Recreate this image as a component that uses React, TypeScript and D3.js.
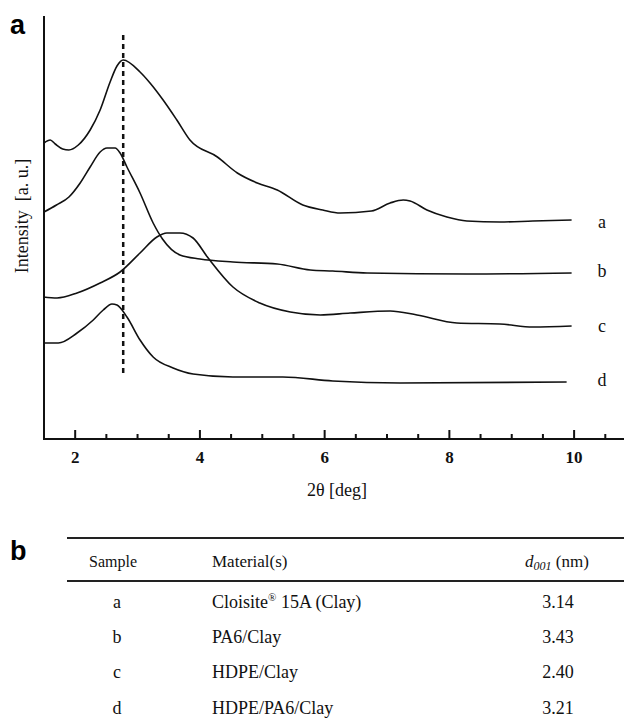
import React, { useEffect, useRef } from 'react';
import * as d3 from 'd3';

// XRD patterns: [2theta (deg), intensity (a.u.)]
const curveA: [number, number][] = [
  [1.50, 296], [1.60, 299], [1.68, 295], [1.80, 290], [1.90, 289], [2.05, 294],
  [2.24, 309], [2.40, 329], [2.56, 357], [2.67, 373], [2.77, 379], [3.04, 367],
  [3.20, 356], [3.41, 339], [3.63, 319], [3.84, 299], [4.28, 282], [4.60, 266],
  [4.92, 256], [5.24, 249], [5.65, 234], [5.97, 229], [6.25, 226], [6.75, 228],
  [7.05, 236], [7.26, 239], [7.37, 238], [7.64, 229], [7.96, 222], [8.28, 218],
  [8.81, 217], [9.34, 218], [9.96, 219],
];
const curveB: [number, number][] = [
  [1.50, 227], [1.70, 234], [1.90, 242], [2.08, 256], [2.24, 272],
  [2.40, 287], [2.51, 291], [2.64, 291], [2.72, 286], [2.83, 272], [3.04, 246],
  [3.25, 216], [3.40, 200], [3.68, 184], [4.00, 180], [4.53, 177], [5.24, 175],
  [5.77, 169], [6.13, 168], [6.68, 166], [8.28, 165], [9.96, 166],
];
const curveC: [number, number][] = [
  [1.49, 142], [1.71, 141], [2.03, 146], [2.40, 156], [2.72, 167], [3.04, 186],
  [3.31, 202], [3.47, 206], [3.68, 206], [3.89, 201], [4.12, 182], [4.53, 152],
  [4.96, 136], [5.45, 127], [5.93, 124], [6.41, 126], [7.05, 128], [7.48, 124],
  [8.12, 116], [8.81, 115], [9.34, 112], [9.96, 113],
];
const curveD: [number, number][] = [
  [1.49, 96], [1.73, 96], [2.03, 106], [2.29, 119], [2.45, 129], [2.59, 135],
  [2.67, 134], [2.83, 122], [3.04, 99], [3.25, 82], [3.57, 71], [3.89, 65],
  [4.53, 62], [5.33, 62], [6.13, 58], [7.21, 56], [9.88, 57],
];

const seriesNames = ['a', 'b', 'c', 'd'];
const seriesLabelY = [217, 168, 113, 59];
const refLineX = 2.77;
const refLineY = [63, 404];

const majorTicks = [2, 4, 6, 8, 10];
const minorTicks = [2.5, 3, 3.5, 4.5, 5, 5.5, 6.5, 7, 7.5, 8.5, 9, 9.5, 10.5];

// table (panel b)
const sampleIds = ['a', 'b', 'c', 'd'];
const materials = ['Cloisite', 'PA6/Clay', 'HDPE/Clay', 'HDPE/PA6/Clay'];
const d001 = ['3.14', '3.43', '2.40', '3.21'];

const W = 624;
const H = 719;

function App() {
  const ref = useRef<SVGSVGElement>(null);

  useEffect(() => {
    const svg = d3.select(ref.current);
    svg.selectAll('*').remove();

    const x = d3.scaleLinear().domain([1.5, 10.8]).range([44, 624]);
    const y = d3.scaleLinear().domain([0, 423]).range([439, 16]);
    const serif = "'Liberation Serif', 'DejaVu Serif', serif";
    const sans = "'Liberation Sans', Arial, sans-serif";

    // panel letters
    svg.append('text').attr('x', 10).attr('y', 34).text('a')
      .style('font-family', sans).attr('font-weight', 'bold').attr('font-size', 27);
    svg.append('text').attr('x', 10).attr('y', 560).text('b')
      .style('font-family', sans).attr('font-weight', 'bold').attr('font-size', 27);

    // axes
    const g = svg.append('g').style('font-family', serif).attr('fill', '#111');
    g.append('line')
      .attr('x1', x(1.5)).attr('x2', x(1.5))
      .attr('y1', y(423)).attr('y2', y(0))
      .attr('stroke', '#111').attr('stroke-width', 2);
    g.append('line')
      .attr('x1', x(1.5) - 1).attr('x2', W)
      .attr('y1', y(0)).attr('y2', y(0))
      .attr('stroke', '#111').attr('stroke-width', 2);

    g.selectAll('.major').data(majorTicks).enter().append('line')
      .attr('x1', d => x(d)).attr('x2', d => x(d))
      .attr('y1', y(0)).attr('y2', y(0) - 9)
      .attr('stroke', '#111').attr('stroke-width', 2);
    g.selectAll('.minor').data(minorTicks).enter().append('line')
      .attr('x1', d => x(d)).attr('x2', d => x(d))
      .attr('y1', y(0)).attr('y2', y(0) - 5)
      .attr('stroke', '#111').attr('stroke-width', 2);
    g.selectAll('.ticklabel').data(majorTicks).enter().append('text')
      .attr('x', d => x(d)).attr('y', 463)
      .attr('text-anchor', 'middle')
      .attr('font-weight', 'bold').attr('font-size', 17)
      .text(d => d);

    g.append('text')
      .attr('x', 337).attr('y', 496)
      .attr('text-anchor', 'middle')
      .attr('font-size', 18)
      .text('2\u03b8 [deg]');

    g.append('text')
      .attr('transform', 'translate(28,216) rotate(-90)')
      .attr('text-anchor', 'middle')
      .attr('font-size', 18)
      .style('white-space', 'pre')
      .text('Intensity  [a. u.]');

    // curves
    const line = d3.line<[number, number]>()
      .x(d => x(d[0]))
      .y(d => y(d[1]))
      .curve(d3.curveMonotoneX);

    [curveA, curveB, curveC, curveD].forEach(c => {
      svg.append('path')
        .datum(c)
        .attr('fill', 'none')
        .attr('stroke', '#111')
        .attr('stroke-width', 1.6)
        .attr('stroke-linejoin', 'round')
        .attr('d', line);
    });

    svg.append('line')
      .attr('x1', x(refLineX)).attr('x2', x(refLineX))
      .attr('y1', y(refLineY[1])).attr('y2', y(refLineY[0]))
      .attr('stroke', '#111').attr('stroke-width', 2.5)
      .attr('stroke-dasharray', '5,4');

    g.selectAll('.slabel').data(seriesNames).enter().append('text')
      .attr('x', 602).attr('y', (d, i) => y(seriesLabelY[i]))
      .attr('dy', '0.32em')
      .attr('text-anchor', 'middle')
      .attr('font-size', 18)
      .text(d => d);

    // table
    const t = svg.append('g').style('font-family', serif).attr('fill', '#111');
    t.append('line').attr('x1', 67).attr('x2', W).attr('y1', 538).attr('y2', 538)
      .attr('stroke', '#222').attr('stroke-width', 2.2);
    t.append('line').attr('x1', 67).attr('x2', W).attr('y1', 581).attr('y2', 581)
      .attr('stroke', '#222').attr('stroke-width', 2.2);

    t.append('text').attr('x', 113).attr('y', 567).attr('text-anchor', 'middle')
      .attr('font-size', 16).text('Sample');
    t.append('text').attr('x', 212).attr('y', 567)
      .attr('font-size', 17).text('Material(s)');
    const hd = t.append('text').attr('x', 557).attr('y', 567).attr('text-anchor', 'middle')
      .attr('font-size', 17);
    hd.append('tspan').attr('font-style', 'italic').text('d');
    hd.append('tspan').attr('font-style', 'italic').attr('font-size', 12).attr('dy', 3).text('001');
    hd.append('tspan').attr('dy', -3).text(' (nm)');

    const rowY = d3.scalePoint<string>().domain(sampleIds).range([602, 708]);

    t.selectAll('.sid').data(sampleIds).enter().append('text')
      .attr('x', 117).attr('y', d => rowY(d)!).attr('dy', '0.32em')
      .attr('text-anchor', 'middle').attr('font-size', 18).text(d => d);

    const mat = t.selectAll('.mat').data(materials).enter().append('text')
      .attr('x', 212).attr('y', (d, i) => rowY(sampleIds[i])!).attr('dy', '0.32em')
      .attr('font-size', 18);
    mat.append('tspan').text(d => d);
    mat.filter((d, i) => i === 0).each(function () {
      const s = d3.select(this);
      s.append('tspan').attr('font-size', 11).attr('dy', -7).text('\u00ae');
      s.append('tspan').attr('dy', 7).text(' 15A (Clay)');
    });

    t.selectAll('.dval').data(d001).enter().append('text')
      .attr('x', 558).attr('y', (d, i) => rowY(sampleIds[i])!).attr('dy', '0.32em')
      .attr('text-anchor', 'middle').attr('font-size', 18).text(d => d);
  }, []);

  return (
    <svg ref={ref} width={W} height={H}
         style={{ position: 'absolute', left: 0, top: 0, background: '#fff' }} />
  );
}

export default App;
